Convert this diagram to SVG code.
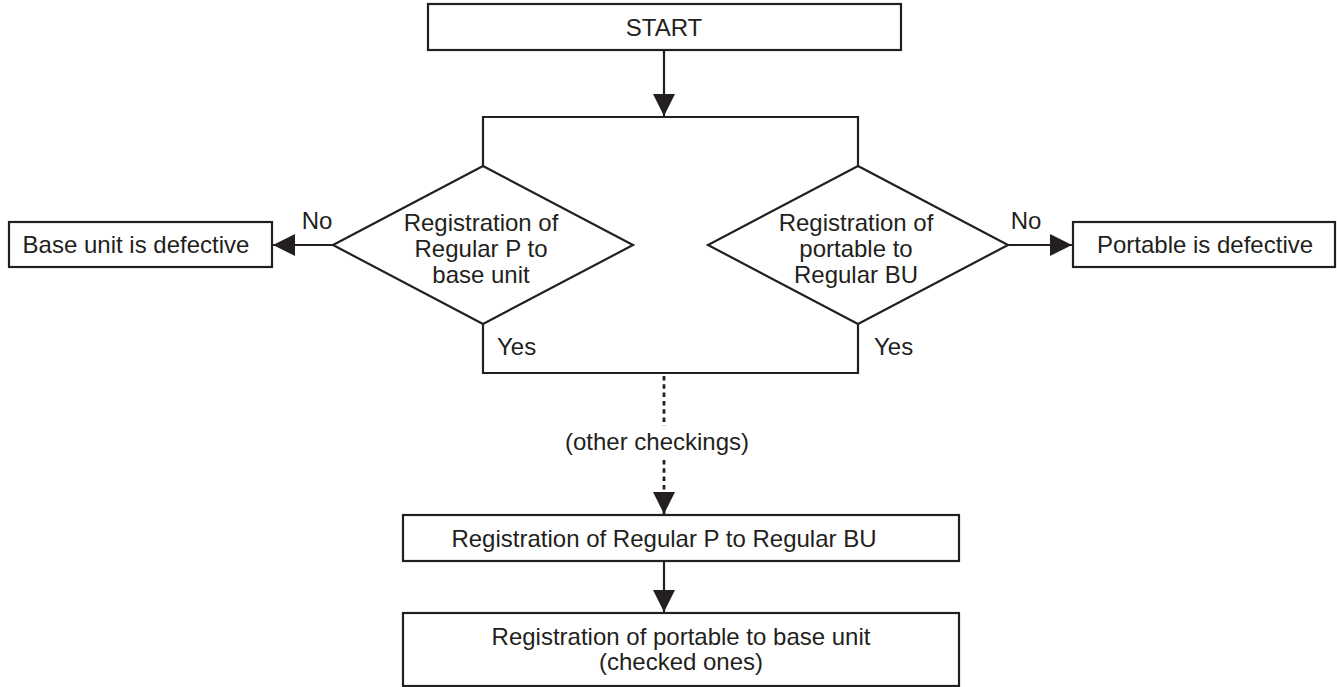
<svg xmlns="http://www.w3.org/2000/svg" width="1337" height="687" viewBox="0 0 1337 687">
<style>
.box{fill:#fff;stroke:#231f20;stroke-width:2.2}
.ln{fill:none;stroke:#231f20;stroke-width:2.2}
.dash{fill:none;stroke:#231f20;stroke-width:2.8;stroke-dasharray:4.5 3.8}
text{font-family:"Liberation Sans",Arial,Helvetica,sans-serif;font-size:24px;fill:#231f20}
.c{text-anchor:middle}
</style>
<defs>
<marker id="ah" markerUnits="userSpaceOnUse" viewBox="0 0 22 22" markerWidth="22" markerHeight="22" refX="22" refY="11" orient="auto">
<path d="M0,0 L22,11 L0,22 z" fill="#231f20"/>
</marker>
</defs>
<g id="connectors">
<line class="ln" x1="664" y1="50" x2="664" y2="116" marker-end="url(#ah)"/>
<path class="ln" d="M483,166 V117 H858 V166"/>
<path class="ln" d="M483,324 V373 H858 V324"/>
<line class="ln" x1="333" y1="245" x2="273" y2="245" marker-end="url(#ah)"/>
<line class="ln" x1="1008" y1="245" x2="1072" y2="245" marker-end="url(#ah)"/>
<line class="dash" x1="664" y1="376" x2="664" y2="426"/>
<line class="dash" x1="664" y1="460" x2="664" y2="514" marker-end="url(#ah)"/>
<line class="ln" x1="664" y1="561" x2="664" y2="612" marker-end="url(#ah)"/>
<text x="317" y="229" class="c">No</text>
<text x="1026" y="229" class="c">No</text>
<text x="497" y="355">Yes</text>
<text x="874" y="355">Yes</text>
<text x="657" y="450" class="c">(other checkings)</text>
</g>
<g id="start">
<rect class="box" x="428" y="4" width="473" height="46"/>
<text x="664" y="36" class="c">START</text>
</g>
<g id="decision-left">
<polygon class="box" points="483,166 633,245 483,324 333,245"/>
<text x="481" y="231" class="c">Registration of</text>
<text x="481" y="257" class="c">Regular P to</text>
<text x="481" y="283" class="c">base unit</text>
</g>
<g id="decision-right">
<polygon class="box" points="858,166 1008,245 858,324 708,245"/>
<text x="856" y="231" class="c">Registration of</text>
<text x="856" y="257" class="c">portable to</text>
<text x="856" y="283" class="c">Regular BU</text>
</g>
<g id="base-defective">
<rect class="box" x="9" y="222" width="263" height="45"/>
<text x="136" y="253" class="c">Base unit is defective</text>
</g>
<g id="portable-defective">
<rect class="box" x="1073" y="222" width="262" height="45"/>
<text x="1205" y="253" class="c">Portable is defective</text>
</g>
<g id="reg-regular">
<rect class="box" x="403" y="515" width="556" height="46"/>
<text x="664" y="547" class="c">Registration of Regular P to Regular BU</text>
</g>
<g id="reg-portable">
<rect class="box" x="403" y="613" width="556" height="73"/>
<text x="681" y="645" class="c">Registration of portable to base unit</text>
<text x="681" y="670" class="c">(checked ones)</text>
</g>
</svg>
